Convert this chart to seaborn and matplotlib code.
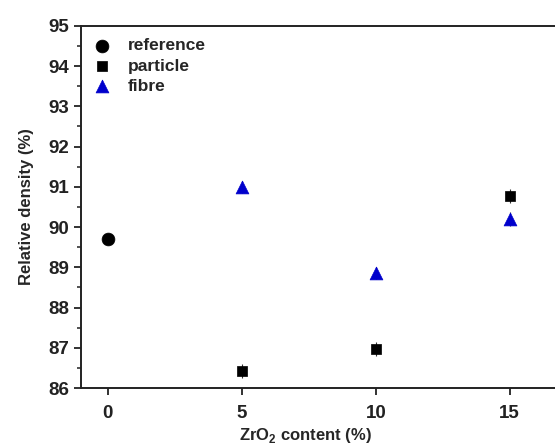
import matplotlib
matplotlib.use("Agg")
import matplotlib.pyplot as plt
import seaborn as sns
import pandas as pd
from matplotlib.ticker import MultipleLocator

# data
ref_x = [0]
ref_y = [89.7]
ref_err = [0.1]

particle_x = [5, 10, 15]
particle_y = [86.43, 86.97, 90.77]
particle_err = [0.17, 0.17, 0.18]

fibre_x = [5, 10, 15]
fibre_y = [91.0, 88.85, 90.2]
fibre_err = [0.15, 0.15, 0.17]

x_ticks = [0, 5, 10, 15]

sns.set_theme(style="ticks")
plt.rcParams['font.family'] = ['Liberation Sans', 'DejaVu Sans']
plt.rcParams['font.weight'] = 'bold'
plt.rcParams['mathtext.fontset'] = 'custom'
plt.rcParams['mathtext.bf'] = 'Liberation Sans:bold'
plt.rcParams['mathtext.rm'] = 'Liberation Sans:bold'

fig = plt.figure(figsize=(5.55, 4.46), dpi=100)
ax = fig.add_axes([0.146, 0.130, 0.869, 0.812])

series = [
    ("reference", ref_x, ref_y, ref_err, "o", "black", 85),
    ("particle", particle_x, particle_y, particle_err, "s", "black", 58),
    ("fibre", fibre_x, fibre_y, fibre_err, "^", "#0000cc", 85),
]

for name, xs, ys, errs, mk, col, size in series:
    df = pd.DataFrame({"x": xs, "y": ys})
    ax.errorbar(xs, ys, yerr=errs, fmt="none", ecolor="#333333", elinewidth=0.8, capsize=0, zorder=2)
    sns.scatterplot(data=df, x="x", y="y", marker=mk, color=col, s=size,
                    edgecolor=col, linewidth=0.5, ax=ax, label=name, zorder=3)

ax.set_xlim(-1, 17)
ax.set_ylim(86, 95)
ax.set_xticks(x_ticks)
ax.yaxis.set_major_locator(MultipleLocator(1))
ax.yaxis.set_minor_locator(MultipleLocator(0.5))

for side in ["left", "bottom", "top", "right"]:
    ax.spines[side].set_linewidth(1.4)
    ax.spines[side].set_color("#222222")

ax.tick_params(axis="both", which="major", direction="out", length=5, width=1.3,
               labelsize=13.5, colors="#222222")
ax.tick_params(axis="y", which="minor", direction="out", length=3, width=1.1, colors="#222222")
ax.tick_params(axis="x", which="minor", bottom=False)
ax.tick_params(axis="x", which="major", pad=7)
for lab in ax.get_xticklabels() + ax.get_yticklabels():
    lab.set_fontweight("bold")

ax.set_xlabel(r"ZrO$_\mathbf{2}$ content (%)", fontsize=12, fontweight="bold")
ax.set_ylabel("Relative density (%)", fontsize=12, fontweight="bold", labelpad=10)
ax.xaxis.set_label_coords(0.465, -0.104)

leg = ax.legend(loc="upper left", frameon=False, fontsize=12.5, handletextpad=1.0,
                labelspacing=0.3, borderaxespad=0.3, handlelength=1.0,
                bbox_to_anchor=(0.0, 1.0))
for t in leg.get_texts():
    t.set_fontweight("bold")

fig.savefig("out.png", dpi=100)
